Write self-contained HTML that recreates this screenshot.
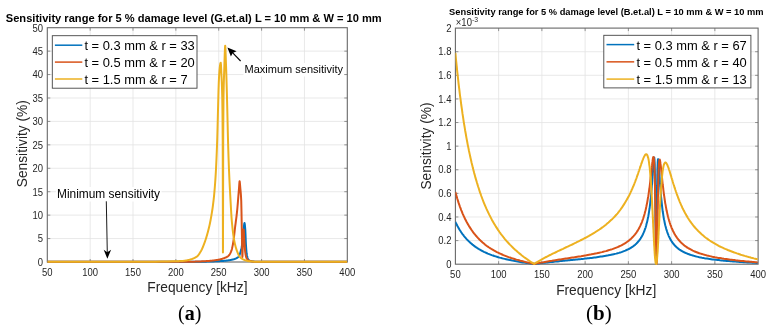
<!DOCTYPE html>
<html><head><meta charset="utf-8"><title>Sensitivity range</title>
<style>
html,body{margin:0;padding:0;background:#fff;}
body{width:772px;height:334px;overflow:hidden;font-family:"Liberation Sans",sans-serif;}
svg{display:block;will-change:transform;opacity:0.999;}
text{font-family:"Liberation Sans",sans-serif;}
.tk{font-size:10px;fill:#262626;}
.lg{font-size:12.9px;fill:#000;}
.al{font-size:13.75px;fill:#262626;}
.cap{font-family:"Liberation Serif",serif;font-size:20px;fill:#000;}
</style></head><body>
<svg width="772" height="334" viewBox="0 0 772 334">
<rect x="0" y="0" width="772" height="334" fill="#fff"/>

<g id="left">
<rect x="47.3" y="27.7" width="300.0" height="234.3" fill="#fff"/>
<line x1="90.16" y1="27.7" x2="90.16" y2="262.0" stroke="#e3e3e3" stroke-width="0.8"/>
<line x1="133.01" y1="27.7" x2="133.01" y2="262.0" stroke="#e3e3e3" stroke-width="0.8"/>
<line x1="175.87" y1="27.7" x2="175.87" y2="262.0" stroke="#e3e3e3" stroke-width="0.8"/>
<line x1="218.73" y1="27.7" x2="218.73" y2="262.0" stroke="#e3e3e3" stroke-width="0.8"/>
<line x1="261.59" y1="27.7" x2="261.59" y2="262.0" stroke="#e3e3e3" stroke-width="0.8"/>
<line x1="304.44" y1="27.7" x2="304.44" y2="262.0" stroke="#e3e3e3" stroke-width="0.8"/>
<line x1="47.3" y1="238.57" x2="347.3" y2="238.57" stroke="#e3e3e3" stroke-width="0.8"/>
<line x1="47.3" y1="215.14" x2="347.3" y2="215.14" stroke="#e3e3e3" stroke-width="0.8"/>
<line x1="47.3" y1="191.71" x2="347.3" y2="191.71" stroke="#e3e3e3" stroke-width="0.8"/>
<line x1="47.3" y1="168.28" x2="347.3" y2="168.28" stroke="#e3e3e3" stroke-width="0.8"/>
<line x1="47.3" y1="144.85" x2="347.3" y2="144.85" stroke="#e3e3e3" stroke-width="0.8"/>
<line x1="47.3" y1="121.42" x2="347.3" y2="121.42" stroke="#e3e3e3" stroke-width="0.8"/>
<line x1="47.3" y1="97.99" x2="347.3" y2="97.99" stroke="#e3e3e3" stroke-width="0.8"/>
<line x1="47.3" y1="74.56" x2="347.3" y2="74.56" stroke="#e3e3e3" stroke-width="0.8"/>
<line x1="47.3" y1="51.13" x2="347.3" y2="51.13" stroke="#e3e3e3" stroke-width="0.8"/>
<line x1="90.16" y1="262.0" x2="90.16" y2="259.0" stroke="#686868" stroke-width="0.7"/>
<line x1="90.16" y1="27.7" x2="90.16" y2="30.7" stroke="#686868" stroke-width="0.7"/>
<line x1="133.01" y1="262.0" x2="133.01" y2="259.0" stroke="#686868" stroke-width="0.7"/>
<line x1="133.01" y1="27.7" x2="133.01" y2="30.7" stroke="#686868" stroke-width="0.7"/>
<line x1="175.87" y1="262.0" x2="175.87" y2="259.0" stroke="#686868" stroke-width="0.7"/>
<line x1="175.87" y1="27.7" x2="175.87" y2="30.7" stroke="#686868" stroke-width="0.7"/>
<line x1="218.73" y1="262.0" x2="218.73" y2="259.0" stroke="#686868" stroke-width="0.7"/>
<line x1="218.73" y1="27.7" x2="218.73" y2="30.7" stroke="#686868" stroke-width="0.7"/>
<line x1="261.59" y1="262.0" x2="261.59" y2="259.0" stroke="#686868" stroke-width="0.7"/>
<line x1="261.59" y1="27.7" x2="261.59" y2="30.7" stroke="#686868" stroke-width="0.7"/>
<line x1="304.44" y1="262.0" x2="304.44" y2="259.0" stroke="#686868" stroke-width="0.7"/>
<line x1="304.44" y1="27.7" x2="304.44" y2="30.7" stroke="#686868" stroke-width="0.7"/>
<line x1="47.3" y1="238.57" x2="50.3" y2="238.57" stroke="#686868" stroke-width="0.7"/>
<line x1="347.3" y1="238.57" x2="344.3" y2="238.57" stroke="#686868" stroke-width="0.7"/>
<line x1="47.3" y1="215.14" x2="50.3" y2="215.14" stroke="#686868" stroke-width="0.7"/>
<line x1="347.3" y1="215.14" x2="344.3" y2="215.14" stroke="#686868" stroke-width="0.7"/>
<line x1="47.3" y1="191.71" x2="50.3" y2="191.71" stroke="#686868" stroke-width="0.7"/>
<line x1="347.3" y1="191.71" x2="344.3" y2="191.71" stroke="#686868" stroke-width="0.7"/>
<line x1="47.3" y1="168.28" x2="50.3" y2="168.28" stroke="#686868" stroke-width="0.7"/>
<line x1="347.3" y1="168.28" x2="344.3" y2="168.28" stroke="#686868" stroke-width="0.7"/>
<line x1="47.3" y1="144.85" x2="50.3" y2="144.85" stroke="#686868" stroke-width="0.7"/>
<line x1="347.3" y1="144.85" x2="344.3" y2="144.85" stroke="#686868" stroke-width="0.7"/>
<line x1="47.3" y1="121.42" x2="50.3" y2="121.42" stroke="#686868" stroke-width="0.7"/>
<line x1="347.3" y1="121.42" x2="344.3" y2="121.42" stroke="#686868" stroke-width="0.7"/>
<line x1="47.3" y1="97.99" x2="50.3" y2="97.99" stroke="#686868" stroke-width="0.7"/>
<line x1="347.3" y1="97.99" x2="344.3" y2="97.99" stroke="#686868" stroke-width="0.7"/>
<line x1="47.3" y1="74.56" x2="50.3" y2="74.56" stroke="#686868" stroke-width="0.7"/>
<line x1="347.3" y1="74.56" x2="344.3" y2="74.56" stroke="#686868" stroke-width="0.7"/>
<line x1="47.3" y1="51.13" x2="50.3" y2="51.13" stroke="#686868" stroke-width="0.7"/>
<line x1="347.3" y1="51.13" x2="344.3" y2="51.13" stroke="#686868" stroke-width="0.7"/>
<rect x="47.3" y="27.7" width="300.0" height="234.3" fill="none" stroke="#686868" stroke-width="1.1"/>
<clipPath id="cl"><rect x="47.3" y="27.7" width="300.0" height="235.8"/></clipPath>
<g clip-path="url(#cl)" fill="none" stroke-width="2" stroke-linejoin="round" stroke-linecap="butt">
<path d="M47.30,261.70 L53.30,261.70 L59.30,261.70 L65.30,261.70 L71.30,261.70 L77.30,261.70 L83.30,261.70 L89.30,261.70 L95.30,261.70 L101.30,261.70 L107.30,261.70 L113.30,261.70 L119.30,261.70 L125.30,261.70 L131.30,261.70 L137.30,261.70 L143.30,261.70 L149.30,261.70 L155.30,261.70 L161.30,261.70 L167.30,261.70 L173.30,261.70 L175.00,261.70 L175.25,261.70 L175.50,261.70 L175.75,261.70 L176.00,261.70 L176.25,261.70 L176.50,261.70 L176.75,261.70 L177.00,261.70 L177.25,261.70 L177.50,261.70 L177.75,261.70 L178.00,261.70 L178.25,261.70 L178.50,261.70 L178.75,261.70 L179.00,261.70 L179.25,261.70 L179.30,261.70 L179.50,261.70 L179.75,261.70 L180.00,261.70 L180.25,261.70 L180.50,261.70 L180.75,261.70 L181.00,261.70 L181.25,261.70 L181.50,261.70 L181.75,261.70 L182.00,261.70 L182.25,261.70 L182.50,261.70 L182.75,261.70 L183.00,261.70 L183.25,261.70 L183.50,261.70 L183.75,261.70 L184.00,261.70 L184.25,261.70 L184.50,261.70 L184.75,261.70 L185.00,261.70 L185.25,261.70 L185.30,261.70 L185.50,261.70 L185.75,261.70 L186.00,261.70 L186.25,261.70 L186.50,261.70 L186.75,261.70 L187.00,261.70 L187.25,261.70 L187.50,261.70 L187.75,261.70 L188.00,261.70 L188.25,261.70 L188.50,261.70 L188.75,261.70 L189.00,261.70 L189.25,261.70 L189.50,261.70 L189.75,261.70 L190.00,261.70 L190.25,261.70 L190.50,261.70 L190.75,261.70 L191.00,261.70 L191.25,261.70 L191.30,261.70 L191.50,261.70 L191.75,261.70 L192.00,261.70 L192.25,261.70 L192.50,261.70 L192.75,261.70 L193.00,261.70 L193.25,261.70 L193.50,261.70 L193.75,261.70 L194.00,261.70 L194.25,261.70 L194.50,261.70 L194.75,261.70 L195.00,261.70 L195.25,261.70 L195.50,261.70 L195.75,261.70 L196.00,261.70 L196.25,261.70 L196.50,261.70 L196.75,261.70 L197.00,261.70 L197.25,261.70 L197.30,261.70 L197.50,261.70 L197.75,261.70 L198.00,261.70 L198.25,261.70 L198.50,261.70 L198.75,261.70 L199.00,261.70 L199.25,261.70 L199.50,261.70 L199.75,261.70 L200.00,261.70 L200.25,261.70 L200.50,261.70 L200.75,261.70 L201.00,261.70 L201.25,261.70 L201.50,261.70 L201.75,261.69 L202.00,261.69 L202.25,261.69 L202.50,261.69 L202.75,261.69 L203.00,261.68 L203.25,261.68 L203.30,261.68 L203.50,261.68 L203.75,261.68 L204.00,261.67 L204.25,261.67 L204.50,261.66 L204.75,261.66 L205.00,261.66 L205.25,261.65 L205.50,261.65 L205.75,261.64 L206.00,261.64 L206.25,261.63 L206.50,261.63 L206.75,261.62 L207.00,261.62 L207.25,261.61 L207.50,261.60 L207.75,261.60 L208.00,261.59 L208.25,261.59 L208.50,261.58 L208.75,261.57 L209.00,261.56 L209.25,261.56 L209.30,261.56 L209.50,261.55 L209.75,261.54 L210.00,261.53 L210.25,261.53 L210.50,261.52 L210.75,261.51 L211.00,261.50 L211.25,261.49 L211.50,261.48 L211.75,261.48 L212.00,261.47 L212.25,261.46 L212.50,261.45 L212.75,261.44 L213.00,261.43 L213.25,261.42 L213.50,261.41 L213.75,261.40 L214.00,261.39 L214.25,261.38 L214.50,261.37 L214.75,261.36 L215.00,261.35 L215.25,261.34 L215.30,261.33 L215.50,261.33 L215.75,261.31 L216.00,261.30 L216.25,261.29 L216.50,261.28 L216.75,261.27 L217.00,261.26 L217.25,261.25 L217.50,261.23 L217.75,261.22 L218.00,261.21 L218.25,261.20 L218.50,261.18 L218.75,261.17 L219.00,261.16 L219.25,261.15 L219.50,261.13 L219.75,261.12 L220.00,261.11 L220.25,261.09 L220.50,261.08 L220.75,261.07 L221.00,261.05 L221.25,261.04 L221.30,261.04 L221.50,261.03 L221.75,261.01 L222.00,261.00 L222.25,260.99 L222.50,260.97 L222.75,260.95 L223.00,260.94 L223.25,260.92 L223.50,260.90 L223.75,260.88 L224.00,260.86 L224.25,260.84 L224.50,260.82 L224.75,260.79 L225.00,260.77 L225.25,260.75 L225.50,260.72 L225.75,260.69 L226.00,260.67 L226.25,260.64 L226.50,260.61 L226.75,260.58 L227.00,260.54 L227.25,260.51 L227.30,260.51 L227.50,260.48 L227.75,260.44 L228.00,260.41 L228.25,260.37 L228.50,260.33 L228.75,260.30 L229.00,260.26 L229.25,260.22 L229.50,260.17 L229.75,260.13 L230.00,260.09 L230.25,260.04 L230.50,260.00 L230.75,259.95 L231.00,259.90 L231.25,259.85 L231.50,259.80 L231.75,259.75 L232.00,259.70 L232.25,259.65 L232.50,259.59 L232.75,259.53 L233.00,259.48 L233.25,259.41 L233.30,259.40 L233.50,259.35 L233.75,259.28 L234.00,259.21 L234.25,259.13 L234.50,259.05 L234.75,258.96 L235.00,258.87 L235.25,258.77 L235.50,258.67 L235.75,258.56 L236.00,258.44 L236.25,258.31 L236.50,258.18 L236.75,258.04 L237.00,257.88 L237.25,257.73 L237.50,257.56 L237.75,257.38 L238.00,257.19 L238.25,256.99 L238.50,256.78 L238.70,256.60 L238.75,256.55 L239.00,256.22 L239.25,255.74 L239.30,255.63 L239.50,255.14 L239.75,254.44 L240.00,253.65 L240.25,252.80 L240.50,251.89 L240.75,250.95 L241.00,250.00 L241.25,249.00 L241.50,247.89 L241.75,246.65 L242.00,245.27 L242.25,243.73 L242.50,242.00 L242.75,239.73 L243.00,236.85 L243.25,233.79 L243.50,230.97 L243.60,230.00 L243.75,228.54 L244.00,225.97 L244.25,223.87 L244.50,223.00 L244.75,223.92 L245.00,226.26 L245.25,229.35 L245.30,230.00 L245.50,234.05 L245.75,240.78 L245.90,244.00 L246.00,245.63 L246.25,249.37 L246.50,252.37 L246.70,254.00 L246.75,254.30 L247.00,255.69 L247.25,256.86 L247.50,257.81 L247.75,258.52 L248.00,259.00 L248.25,259.34 L248.50,259.64 L248.75,259.92 L249.00,260.16 L249.25,260.37 L249.50,260.55 L249.75,260.70 L250.00,260.83 L250.25,260.93 L250.50,261.00 L250.75,261.06 L251.00,261.12 L251.25,261.17 L251.30,261.18 L251.50,261.22 L251.75,261.27 L252.00,261.32 L252.25,261.36 L252.50,261.41 L252.75,261.45 L253.00,261.48 L253.25,261.52 L253.50,261.55 L253.75,261.58 L254.00,261.60 L254.25,261.62 L254.50,261.64 L254.75,261.66 L255.00,261.67 L255.25,261.69 L255.50,261.69 L255.75,261.70 L256.00,261.70 L256.25,261.70 L256.50,261.70 L256.75,261.70 L257.00,261.70 L257.25,261.70 L257.30,261.70 L257.50,261.70 L257.75,261.70 L258.00,261.70 L258.25,261.70 L258.50,261.70 L258.75,261.70 L259.00,261.70 L259.25,261.70 L259.50,261.70 L259.75,261.70 L260.00,261.70 L260.25,261.70 L260.50,261.70 L260.75,261.70 L261.00,261.70 L261.25,261.70 L261.50,261.70 L261.75,261.70 L263.30,261.70 L269.30,261.70 L275.30,261.70 L281.30,261.70 L287.30,261.70 L293.30,261.70 L299.30,261.70 L305.30,261.70 L311.30,261.70 L317.30,261.70 L323.30,261.70 L329.30,261.70 L335.30,261.70 L341.30,261.70 L347.30,261.70" stroke="#0072BD"/>
<path d="M47.30,261.70 L53.30,261.70 L59.30,261.70 L65.30,261.70 L71.30,261.70 L77.30,261.70 L83.30,261.70 L89.30,261.70 L95.30,261.70 L101.30,261.70 L107.30,261.70 L113.30,261.70 L119.30,261.70 L125.30,261.70 L131.30,261.70 L137.30,261.70 L143.30,261.70 L149.30,261.70 L155.30,261.70 L161.30,261.70 L167.30,261.70 L173.30,261.70 L175.00,261.70 L175.25,261.70 L175.50,261.70 L175.75,261.70 L176.00,261.70 L176.25,261.70 L176.50,261.70 L176.75,261.70 L177.00,261.70 L177.25,261.70 L177.50,261.70 L177.75,261.70 L178.00,261.70 L178.25,261.70 L178.50,261.70 L178.75,261.70 L179.00,261.70 L179.25,261.70 L179.30,261.70 L179.50,261.70 L179.75,261.70 L180.00,261.70 L180.25,261.70 L180.50,261.70 L180.75,261.70 L181.00,261.70 L181.25,261.70 L181.50,261.70 L181.75,261.70 L182.00,261.70 L182.25,261.70 L182.50,261.70 L182.75,261.70 L183.00,261.70 L183.25,261.70 L183.50,261.70 L183.75,261.70 L184.00,261.70 L184.25,261.70 L184.50,261.70 L184.75,261.70 L185.00,261.70 L185.25,261.70 L185.30,261.70 L185.50,261.70 L185.75,261.70 L186.00,261.70 L186.25,261.70 L186.50,261.70 L186.75,261.70 L187.00,261.70 L187.25,261.70 L187.50,261.70 L187.75,261.70 L188.00,261.70 L188.25,261.70 L188.50,261.70 L188.75,261.70 L189.00,261.70 L189.25,261.70 L189.50,261.70 L189.75,261.70 L190.00,261.70 L190.25,261.70 L190.50,261.70 L190.75,261.70 L191.00,261.70 L191.25,261.70 L191.30,261.69 L191.50,261.69 L191.75,261.69 L192.00,261.69 L192.25,261.69 L192.50,261.68 L192.75,261.68 L193.00,261.67 L193.25,261.67 L193.50,261.67 L193.75,261.66 L194.00,261.65 L194.25,261.65 L194.50,261.64 L194.75,261.64 L195.00,261.63 L195.25,261.62 L195.50,261.62 L195.75,261.61 L196.00,261.60 L196.25,261.59 L196.50,261.59 L196.75,261.58 L197.00,261.57 L197.25,261.56 L197.30,261.56 L197.50,261.55 L197.75,261.54 L198.00,261.53 L198.25,261.52 L198.50,261.51 L198.75,261.50 L199.00,261.49 L199.25,261.48 L199.50,261.47 L199.75,261.46 L200.00,261.45 L200.25,261.43 L200.50,261.42 L200.75,261.41 L201.00,261.40 L201.25,261.39 L201.50,261.37 L201.75,261.36 L202.00,261.35 L202.25,261.33 L202.50,261.32 L202.75,261.31 L203.00,261.29 L203.25,261.28 L203.30,261.28 L203.50,261.27 L203.75,261.25 L204.00,261.24 L204.25,261.22 L204.50,261.21 L204.75,261.20 L205.00,261.18 L205.25,261.17 L205.50,261.15 L205.75,261.14 L206.00,261.12 L206.25,261.11 L206.50,261.09 L206.75,261.08 L207.00,261.06 L207.25,261.05 L207.50,261.03 L207.75,261.02 L208.00,261.00 L208.25,260.98 L208.50,260.97 L208.75,260.95 L209.00,260.93 L209.25,260.91 L209.30,260.91 L209.50,260.89 L209.75,260.87 L210.00,260.85 L210.25,260.83 L210.50,260.80 L210.75,260.78 L211.00,260.76 L211.25,260.73 L211.50,260.71 L211.75,260.68 L212.00,260.65 L212.25,260.62 L212.50,260.59 L212.75,260.56 L213.00,260.53 L213.25,260.50 L213.50,260.47 L213.75,260.44 L214.00,260.40 L214.25,260.37 L214.50,260.34 L214.75,260.30 L215.00,260.26 L215.25,260.23 L215.30,260.22 L215.50,260.19 L215.75,260.15 L216.00,260.11 L216.25,260.07 L216.50,260.03 L216.75,259.99 L217.00,259.95 L217.25,259.91 L217.50,259.87 L217.75,259.83 L218.00,259.78 L218.25,259.74 L218.50,259.69 L218.75,259.65 L219.00,259.60 L219.25,259.55 L219.50,259.50 L219.75,259.45 L220.00,259.39 L220.25,259.34 L220.50,259.28 L220.75,259.21 L221.00,259.15 L221.25,259.08 L221.30,259.07 L221.50,259.01 L221.75,258.94 L222.00,258.86 L222.25,258.79 L222.50,258.71 L222.75,258.63 L223.00,258.54 L223.25,258.46 L223.50,258.37 L223.75,258.28 L224.00,258.19 L224.25,258.09 L224.50,258.00 L224.75,257.90 L225.00,257.80 L225.25,257.70 L225.50,257.59 L225.75,257.49 L226.00,257.38 L226.25,257.26 L226.50,257.14 L226.75,257.01 L227.00,256.87 L227.25,256.72 L227.30,256.69 L227.50,256.56 L227.75,256.39 L228.00,256.21 L228.25,256.01 L228.50,255.80 L228.75,255.56 L229.00,255.29 L229.25,254.97 L229.50,254.62 L229.75,254.24 L230.00,253.81 L230.25,253.35 L230.50,252.85 L230.75,252.31 L231.00,251.74 L231.25,251.13 L231.30,251.00 L231.50,250.44 L231.75,249.61 L232.00,248.65 L232.25,247.56 L232.50,246.37 L232.75,245.08 L233.00,243.72 L233.25,242.29 L233.30,242.00 L233.50,240.72 L233.75,238.87 L234.00,236.80 L234.25,234.61 L234.50,232.36 L234.75,230.13 L235.00,228.00 L235.25,225.99 L235.50,224.05 L235.75,222.14 L236.00,220.23 L236.25,218.28 L236.50,216.27 L236.75,214.16 L237.00,211.91 L237.20,210.00 L237.25,209.50 L237.50,206.78 L237.75,203.82 L238.00,200.72 L238.25,197.61 L238.30,197.00 L238.50,194.51 L238.75,191.34 L239.00,188.21 L239.10,187.00 L239.25,184.90 L239.30,184.14 L239.50,181.70 L239.60,181.30 L239.75,181.81 L240.00,184.28 L240.25,187.43 L240.30,188.00 L240.50,190.11 L240.75,192.82 L241.00,196.26 L241.20,200.00 L241.25,201.29 L241.50,212.46 L241.75,227.09 L241.90,235.00 L242.00,240.27 L242.25,253.72 L242.40,257.00 L242.50,255.57 L242.75,245.25 L242.90,240.00 L243.00,237.84 L243.25,232.83 L243.50,229.73 L243.60,229.40 L243.75,230.29 L244.00,234.44 L244.25,239.23 L244.30,240.00 L244.50,242.99 L244.75,246.80 L245.00,250.12 L245.20,252.00 L245.25,252.35 L245.30,252.69 L245.50,253.97 L245.75,255.36 L246.00,256.51 L246.25,257.40 L246.50,258.00 L246.75,258.44 L247.00,258.84 L247.25,259.20 L247.50,259.52 L247.75,259.81 L248.00,260.06 L248.25,260.28 L248.50,260.46 L248.75,260.61 L249.00,260.73 L249.20,260.80 L249.25,260.81 L249.50,260.89 L249.75,260.96 L250.00,261.02 L250.25,261.09 L250.50,261.15 L250.75,261.21 L251.00,261.26 L251.25,261.31 L251.30,261.32 L251.50,261.36 L251.75,261.41 L252.00,261.45 L252.25,261.49 L252.50,261.52 L252.75,261.56 L253.00,261.59 L253.25,261.61 L253.50,261.64 L253.75,261.66 L254.00,261.67 L254.25,261.68 L254.50,261.69 L254.75,261.70 L255.00,261.70 L255.25,261.70 L255.50,261.70 L255.75,261.70 L256.00,261.70 L256.25,261.70 L256.50,261.70 L256.75,261.70 L257.00,261.70 L257.25,261.70 L257.30,261.70 L257.50,261.70 L257.75,261.70 L258.00,261.70 L258.25,261.70 L258.50,261.70 L258.75,261.70 L259.00,261.70 L259.25,261.70 L259.50,261.70 L259.75,261.70 L260.00,261.70 L260.25,261.70 L260.50,261.70 L260.75,261.70 L261.00,261.70 L261.25,261.70 L261.50,261.70 L261.75,261.70 L263.30,261.70 L269.30,261.70 L275.30,261.70 L281.30,261.70 L287.30,261.70 L293.30,261.70 L299.30,261.70 L305.30,261.70 L311.30,261.70 L317.30,261.70 L323.30,261.70 L329.30,261.70 L335.30,261.70 L341.30,261.70 L347.30,261.70" stroke="#D95319"/>
<path d="M47.30,261.70 L53.30,261.70 L59.30,261.70 L65.30,261.70 L71.30,261.70 L77.30,261.70 L83.30,261.70 L89.30,261.70 L95.30,261.70 L101.30,261.70 L107.30,261.70 L113.30,261.70 L119.30,261.70 L125.30,261.70 L131.30,261.70 L137.30,261.70 L143.30,261.70 L149.30,261.70 L150.00,261.70 L155.30,261.68 L161.30,261.62 L167.30,261.51 L173.30,261.34 L175.00,261.28 L175.25,261.27 L175.50,261.26 L175.75,261.26 L176.00,261.25 L176.25,261.24 L176.50,261.23 L176.75,261.22 L177.00,261.21 L177.25,261.20 L177.50,261.19 L177.75,261.18 L178.00,261.17 L178.25,261.16 L178.50,261.15 L178.75,261.14 L179.00,261.13 L179.25,261.12 L179.30,261.12 L179.50,261.11 L179.75,261.10 L180.00,261.09 L180.25,261.08 L180.50,261.07 L180.75,261.06 L181.00,261.05 L181.25,261.03 L181.50,261.02 L181.75,261.01 L182.00,261.00 L182.25,260.99 L182.50,260.97 L182.75,260.95 L183.00,260.93 L183.25,260.91 L183.50,260.88 L183.75,260.85 L184.00,260.82 L184.25,260.79 L184.50,260.76 L184.75,260.72 L185.00,260.68 L185.25,260.64 L185.30,260.63 L185.50,260.60 L185.75,260.55 L186.00,260.51 L186.25,260.46 L186.50,260.41 L186.75,260.36 L187.00,260.31 L187.25,260.25 L187.50,260.20 L187.75,260.14 L188.00,260.09 L188.25,260.03 L188.50,259.97 L188.75,259.91 L189.00,259.85 L189.25,259.79 L189.50,259.73 L189.75,259.66 L190.00,259.60 L190.25,259.54 L190.50,259.47 L190.75,259.40 L191.00,259.33 L191.25,259.25 L191.30,259.24 L191.50,259.17 L191.75,259.09 L192.00,259.01 L192.25,258.92 L192.50,258.83 L192.75,258.73 L193.00,258.64 L193.25,258.53 L193.50,258.43 L193.75,258.32 L194.00,258.20 L194.25,258.09 L194.50,257.96 L194.75,257.83 L195.00,257.70 L195.25,257.57 L195.50,257.42 L195.75,257.28 L196.00,257.12 L196.25,256.97 L196.50,256.80 L196.75,256.63 L196.80,256.60 L197.00,256.45 L197.25,256.25 L197.30,256.20 L197.50,256.02 L197.75,255.76 L198.00,255.49 L198.25,255.19 L198.50,254.88 L198.75,254.54 L199.00,254.20 L199.25,253.83 L199.50,253.46 L199.75,253.07 L200.00,252.67 L200.25,252.26 L200.50,251.85 L200.75,251.43 L201.00,251.00 L201.25,250.56 L201.50,250.09 L201.75,249.59 L202.00,249.06 L202.25,248.52 L202.50,247.95 L202.75,247.36 L203.00,246.75 L203.25,246.13 L203.30,246.00 L203.50,245.49 L203.75,244.84 L204.00,244.18 L204.25,243.51 L204.50,242.83 L204.75,242.14 L204.80,242.00 L205.00,241.44 L205.25,240.72 L205.50,239.98 L205.75,239.22 L206.00,238.44 L206.25,237.64 L206.50,236.82 L206.75,235.99 L207.00,235.13 L207.25,234.25 L207.50,233.35 L207.75,232.43 L208.00,231.50 L208.25,230.55 L208.50,229.57 L208.75,228.56 L209.00,227.53 L209.25,226.46 L209.30,226.24 L209.50,225.35 L209.75,224.21 L210.00,223.01 L210.25,221.77 L210.40,221.00 L210.50,220.48 L210.75,219.15 L211.00,217.80 L211.25,216.40 L211.50,214.95 L211.75,213.45 L212.00,211.89 L212.25,210.26 L212.50,208.56 L212.75,206.77 L213.00,204.90 L213.25,202.93 L213.50,200.86 L213.60,200.00 L213.75,198.67 L214.00,196.29 L214.25,193.73 L214.50,190.96 L214.75,187.97 L215.00,184.74 L215.25,181.28 L215.30,180.56 L215.50,177.56 L215.60,176.00 L215.75,173.53 L216.00,168.98 L216.25,163.91 L216.50,158.32 L216.75,152.23 L217.00,145.63 L217.20,140.00 L217.25,138.50 L217.50,129.66 L217.75,119.68 L218.00,110.00 L218.25,100.39 L218.50,90.86 L218.75,83.16 L218.80,82.00 L219.00,77.88 L219.25,73.46 L219.50,69.98 L219.70,68.00 L219.75,67.60 L220.00,65.68 L220.25,64.07 L220.50,63.00 L220.70,62.70 L220.75,62.79 L221.00,65.45 L221.25,70.47 L221.30,71.59 L221.50,76.00 L221.75,81.21 L222.00,87.69 L222.20,95.00 L222.25,97.27 L222.50,114.56 L222.70,140.00 L222.75,156.87 L222.95,252.40 L223.00,242.36 L223.20,140.00 L223.25,130.30 L223.50,98.45 L223.55,95.00 L223.75,84.93 L224.00,76.35 L224.25,69.44 L224.30,68.00 L224.50,61.61 L224.75,53.53 L225.00,47.49 L225.20,45.70 L225.25,45.85 L225.50,50.18 L225.75,57.64 L225.90,62.00 L226.00,64.70 L226.25,72.01 L226.50,80.00 L226.75,88.72 L227.00,98.14 L227.25,108.00 L227.30,110.00 L227.50,118.58 L227.75,129.87 L228.00,140.00 L228.25,148.56 L228.50,156.42 L228.75,163.56 L229.00,170.00 L229.25,175.83 L229.50,181.20 L229.75,186.22 L230.00,190.96 L230.25,195.53 L230.50,200.00 L230.75,204.51 L231.00,209.01 L231.25,213.29 L231.50,217.17 L231.75,220.44 L231.80,221.00 L232.00,223.14 L232.25,225.67 L232.50,228.05 L232.75,230.28 L233.00,232.36 L233.25,234.30 L233.30,234.67 L233.50,236.10 L233.75,237.77 L234.00,239.31 L234.25,240.71 L234.50,242.00 L234.75,243.18 L235.00,244.29 L235.25,245.32 L235.50,246.28 L235.75,247.19 L236.00,248.04 L236.25,248.84 L236.50,249.59 L236.75,250.31 L237.00,251.00 L237.25,251.67 L237.50,252.33 L237.75,252.98 L238.00,253.60 L238.25,254.19 L238.50,254.75 L238.75,255.26 L239.00,255.73 L239.25,256.14 L239.30,256.21 L239.50,256.48 L239.60,256.60 L239.75,256.77 L240.00,257.04 L240.25,257.29 L240.50,257.53 L240.75,257.76 L241.00,257.98 L241.25,258.19 L241.50,258.38 L241.75,258.56 L242.00,258.74 L242.25,258.90 L242.50,259.05 L242.75,259.20 L243.00,259.33 L243.25,259.46 L243.50,259.58 L243.75,259.69 L244.00,259.80 L244.25,259.90 L244.50,260.00 L244.75,260.09 L245.00,260.19 L245.25,260.28 L245.30,260.30 L245.50,260.37 L245.75,260.45 L246.00,260.53 L246.25,260.61 L246.50,260.68 L246.75,260.75 L247.00,260.82 L247.25,260.88 L247.50,260.94 L247.75,260.99 L248.00,261.04 L248.25,261.09 L248.50,261.13 L248.75,261.17 L249.00,261.20 L249.25,261.23 L249.50,261.26 L249.75,261.29 L250.00,261.31 L250.25,261.34 L250.50,261.37 L250.75,261.39 L251.00,261.42 L251.25,261.44 L251.30,261.45 L251.50,261.47 L251.75,261.49 L252.00,261.51 L252.25,261.53 L252.50,261.55 L252.75,261.57 L253.00,261.59 L253.25,261.61 L253.50,261.62 L253.75,261.64 L254.00,261.65 L254.25,261.66 L254.50,261.67 L254.75,261.68 L255.00,261.69 L255.25,261.69 L255.50,261.70 L255.75,261.70 L256.00,261.70 L256.25,261.70 L256.50,261.70 L256.75,261.70 L257.00,261.70 L257.25,261.70 L257.30,261.70 L257.50,261.70 L257.75,261.70 L258.00,261.70 L258.25,261.70 L258.50,261.70 L258.75,261.70 L259.00,261.70 L259.25,261.70 L259.50,261.70 L259.75,261.70 L260.00,261.70 L260.25,261.70 L260.50,261.70 L260.75,261.70 L261.00,261.70 L261.25,261.70 L261.50,261.70 L261.75,261.70 L263.30,261.70 L269.30,261.70 L275.30,261.70 L281.30,261.70 L287.30,261.70 L293.30,261.70 L299.30,261.70 L305.30,261.70 L311.30,261.70 L317.30,261.70 L323.30,261.70 L329.30,261.70 L335.30,261.70 L341.30,261.70 L347.30,261.70" stroke="#EDB120"/>
</g>
<text class="tk" transform="translate(47.30,276.2) scale(0.95,1)" text-anchor="middle">50</text>
<text class="tk" transform="translate(90.16,276.2) scale(0.95,1)" text-anchor="middle">100</text>
<text class="tk" transform="translate(133.01,276.2) scale(0.95,1)" text-anchor="middle">150</text>
<text class="tk" transform="translate(175.87,276.2) scale(0.95,1)" text-anchor="middle">200</text>
<text class="tk" transform="translate(218.73,276.2) scale(0.95,1)" text-anchor="middle">250</text>
<text class="tk" transform="translate(261.59,276.2) scale(0.95,1)" text-anchor="middle">300</text>
<text class="tk" transform="translate(304.44,276.2) scale(0.95,1)" text-anchor="middle">350</text>
<text class="tk" transform="translate(347.30,276.2) scale(0.95,1)" text-anchor="middle">400</text>
<text class="tk" transform="translate(43.1,265.80) scale(0.95,1)" text-anchor="end">0</text>
<text class="tk" transform="translate(43.1,242.37) scale(0.95,1)" text-anchor="end">5</text>
<text class="tk" transform="translate(43.1,218.94) scale(0.95,1)" text-anchor="end">10</text>
<text class="tk" transform="translate(43.1,195.51) scale(0.95,1)" text-anchor="end">15</text>
<text class="tk" transform="translate(43.1,172.08) scale(0.95,1)" text-anchor="end">20</text>
<text class="tk" transform="translate(43.1,148.65) scale(0.95,1)" text-anchor="end">25</text>
<text class="tk" transform="translate(43.1,125.22) scale(0.95,1)" text-anchor="end">30</text>
<text class="tk" transform="translate(43.1,101.79) scale(0.95,1)" text-anchor="end">35</text>
<text class="tk" transform="translate(43.1,78.36) scale(0.95,1)" text-anchor="end">40</text>
<text class="tk" transform="translate(43.1,54.93) scale(0.95,1)" text-anchor="end">45</text>
<text class="tk" transform="translate(43.1,31.50) scale(0.95,1)" text-anchor="end">50</text>
<text x="5.8" y="21.8" font-size="11.1px" font-weight="bold" fill="#000">Sensitivity range for 5 % damage level (G.et.al) L = 10 mm &amp; W = 10 mm</text>
<text class="al" x="197.4" y="292.3" text-anchor="middle">Frequency [kHz]</text>
<text class="al" transform="translate(26.6,143.7) rotate(-90)" text-anchor="middle">Sensitivity (%)</text>
<rect x="52.3" y="35.7" width="144.7" height="52.5" fill="#fff" stroke="#444" stroke-width="0.9"/>
<line x1="54.9" y1="45.20" x2="82.3" y2="45.20" stroke="#0072BD" stroke-width="1.5"/>
<text class="lg" x="84.4" y="49.70">t = 0.3 mm &amp; r = 33</text>
<line x1="54.9" y1="62.10" x2="82.3" y2="62.10" stroke="#D95319" stroke-width="1.5"/>
<text class="lg" x="84.4" y="66.60">t = 0.5 mm &amp; r = 20</text>
<line x1="54.9" y1="79.00" x2="82.3" y2="79.00" stroke="#EDB120" stroke-width="1.5"/>
<text class="lg" x="84.4" y="83.50">t = 1.5 mm &amp; r = 7</text>
<rect x="243.5" y="63" width="100.5" height="13.5" fill="#fff"/>
<rect x="56" y="187" width="105.5" height="14.5" fill="#fff"/>
<text x="244.6" y="72.7" font-size="11px" fill="#000">Maximum sensitivity</text>
<text x="57" y="197.8" font-size="11.9px" fill="#000">Minimum sensitivity</text>
<line x1="240.6" y1="61" x2="232" y2="52.1" stroke="#000" stroke-width="1.1"/>
<path d="M227.4,47.4 L236.6,51.3 L232.7,52.9 L230.9,56.5 Z" fill="#000"/>
<line x1="106.3" y1="201.3" x2="107.3" y2="253" stroke="#000" stroke-width="0.9"/>
<path d="M107.35,258.7 L103.7,249.8 L107.3,252.3 L111.1,249.8 Z" fill="#000"/>
<text class="cap" x="178" y="319.9">(<tspan font-weight="bold">a</tspan>)</text>
</g>
<g id="right">
<rect x="455.4" y="28.1" width="302.70000000000005" height="236.1" fill="#fff"/>
<line x1="498.64" y1="28.1" x2="498.64" y2="264.2" stroke="#e3e3e3" stroke-width="0.8"/>
<line x1="541.89" y1="28.1" x2="541.89" y2="264.2" stroke="#e3e3e3" stroke-width="0.8"/>
<line x1="585.13" y1="28.1" x2="585.13" y2="264.2" stroke="#e3e3e3" stroke-width="0.8"/>
<line x1="628.37" y1="28.1" x2="628.37" y2="264.2" stroke="#e3e3e3" stroke-width="0.8"/>
<line x1="671.61" y1="28.1" x2="671.61" y2="264.2" stroke="#e3e3e3" stroke-width="0.8"/>
<line x1="714.86" y1="28.1" x2="714.86" y2="264.2" stroke="#e3e3e3" stroke-width="0.8"/>
<line x1="455.4" y1="240.59" x2="758.1" y2="240.59" stroke="#e3e3e3" stroke-width="0.8"/>
<line x1="455.4" y1="216.98" x2="758.1" y2="216.98" stroke="#e3e3e3" stroke-width="0.8"/>
<line x1="455.4" y1="193.37" x2="758.1" y2="193.37" stroke="#e3e3e3" stroke-width="0.8"/>
<line x1="455.4" y1="169.76" x2="758.1" y2="169.76" stroke="#e3e3e3" stroke-width="0.8"/>
<line x1="455.4" y1="146.15" x2="758.1" y2="146.15" stroke="#e3e3e3" stroke-width="0.8"/>
<line x1="455.4" y1="122.54" x2="758.1" y2="122.54" stroke="#e3e3e3" stroke-width="0.8"/>
<line x1="455.4" y1="98.93" x2="758.1" y2="98.93" stroke="#e3e3e3" stroke-width="0.8"/>
<line x1="455.4" y1="75.32" x2="758.1" y2="75.32" stroke="#e3e3e3" stroke-width="0.8"/>
<line x1="455.4" y1="51.71" x2="758.1" y2="51.71" stroke="#e3e3e3" stroke-width="0.8"/>
<line x1="498.64" y1="264.2" x2="498.64" y2="261.2" stroke="#686868" stroke-width="0.7"/>
<line x1="498.64" y1="28.1" x2="498.64" y2="31.1" stroke="#686868" stroke-width="0.7"/>
<line x1="541.89" y1="264.2" x2="541.89" y2="261.2" stroke="#686868" stroke-width="0.7"/>
<line x1="541.89" y1="28.1" x2="541.89" y2="31.1" stroke="#686868" stroke-width="0.7"/>
<line x1="585.13" y1="264.2" x2="585.13" y2="261.2" stroke="#686868" stroke-width="0.7"/>
<line x1="585.13" y1="28.1" x2="585.13" y2="31.1" stroke="#686868" stroke-width="0.7"/>
<line x1="628.37" y1="264.2" x2="628.37" y2="261.2" stroke="#686868" stroke-width="0.7"/>
<line x1="628.37" y1="28.1" x2="628.37" y2="31.1" stroke="#686868" stroke-width="0.7"/>
<line x1="671.61" y1="264.2" x2="671.61" y2="261.2" stroke="#686868" stroke-width="0.7"/>
<line x1="671.61" y1="28.1" x2="671.61" y2="31.1" stroke="#686868" stroke-width="0.7"/>
<line x1="714.86" y1="264.2" x2="714.86" y2="261.2" stroke="#686868" stroke-width="0.7"/>
<line x1="714.86" y1="28.1" x2="714.86" y2="31.1" stroke="#686868" stroke-width="0.7"/>
<line x1="455.4" y1="240.59" x2="458.4" y2="240.59" stroke="#686868" stroke-width="0.7"/>
<line x1="758.1" y1="240.59" x2="755.1" y2="240.59" stroke="#686868" stroke-width="0.7"/>
<line x1="455.4" y1="216.98" x2="458.4" y2="216.98" stroke="#686868" stroke-width="0.7"/>
<line x1="758.1" y1="216.98" x2="755.1" y2="216.98" stroke="#686868" stroke-width="0.7"/>
<line x1="455.4" y1="193.37" x2="458.4" y2="193.37" stroke="#686868" stroke-width="0.7"/>
<line x1="758.1" y1="193.37" x2="755.1" y2="193.37" stroke="#686868" stroke-width="0.7"/>
<line x1="455.4" y1="169.76" x2="458.4" y2="169.76" stroke="#686868" stroke-width="0.7"/>
<line x1="758.1" y1="169.76" x2="755.1" y2="169.76" stroke="#686868" stroke-width="0.7"/>
<line x1="455.4" y1="146.15" x2="458.4" y2="146.15" stroke="#686868" stroke-width="0.7"/>
<line x1="758.1" y1="146.15" x2="755.1" y2="146.15" stroke="#686868" stroke-width="0.7"/>
<line x1="455.4" y1="122.54" x2="458.4" y2="122.54" stroke="#686868" stroke-width="0.7"/>
<line x1="758.1" y1="122.54" x2="755.1" y2="122.54" stroke="#686868" stroke-width="0.7"/>
<line x1="455.4" y1="98.93" x2="458.4" y2="98.93" stroke="#686868" stroke-width="0.7"/>
<line x1="758.1" y1="98.93" x2="755.1" y2="98.93" stroke="#686868" stroke-width="0.7"/>
<line x1="455.4" y1="75.32" x2="458.4" y2="75.32" stroke="#686868" stroke-width="0.7"/>
<line x1="758.1" y1="75.32" x2="755.1" y2="75.32" stroke="#686868" stroke-width="0.7"/>
<line x1="455.4" y1="51.71" x2="458.4" y2="51.71" stroke="#686868" stroke-width="0.7"/>
<line x1="758.1" y1="51.71" x2="755.1" y2="51.71" stroke="#686868" stroke-width="0.7"/>
<rect x="455.4" y="28.1" width="302.70000000000005" height="236.1" fill="none" stroke="#686868" stroke-width="1.1"/>
<clipPath id="cr"><rect x="455.4" y="28.1" width="302.70000000000005" height="237.6"/></clipPath>
<g clip-path="url(#cr)" fill="none" stroke-width="2" stroke-linejoin="round" stroke-linecap="butt">
<path d="M455.4,221.8 L456.0,223.2 L456.7,224.5 L457.3,225.7 L458.0,226.9 L458.6,228.1 L459.3,229.2 L459.9,230.2 L460.6,231.2 L461.2,232.2 L461.9,233.2 L462.5,234.1 L463.2,234.9 L463.8,235.8 L464.5,236.6 L465.1,237.4 L465.8,238.1 L466.4,238.9 L467.1,239.6 L467.7,240.2 L468.4,240.9 L469.0,241.5 L469.7,242.1 L470.3,242.7 L471.0,243.3 L471.6,243.9 L472.3,244.4 L472.9,244.9 L473.6,245.4 L474.2,245.9 L474.9,246.4 L475.5,246.9 L476.2,247.3 L476.8,247.7 L477.5,248.2 L478.1,248.6 L478.8,249.0 L479.4,249.4 L480.0,249.7 L480.7,250.1 L481.3,250.5 L482.6,251.1 L483.9,251.8 L485.2,252.4 L486.5,253.0 L487.8,253.6 L489.1,254.1 L490.4,254.6 L491.7,255.1 L493.0,255.5 L494.3,256.0 L495.6,256.4 L496.9,256.8 L498.2,257.2 L499.5,257.6 L500.8,257.9 L502.1,258.3 L503.4,258.6 L504.7,258.9 L506.0,259.2 L507.3,259.5 L508.6,259.8 L509.9,260.1 L511.2,260.3 L512.5,260.6 L513.8,260.8 L515.1,261.1 L516.4,261.3 L517.7,261.5 L519.0,261.7 L520.3,262.0 L521.6,262.2 L522.9,262.4 L524.2,262.6 L525.5,262.7 L526.8,262.9 L528.0,263.1 L529.3,263.3 L530.6,263.5 L531.6,263.6 L531.8,263.6 L531.9,263.6 L532.0,263.6 L532.2,263.7 L532.4,263.7 L532.6,263.7 L532.8,263.7 L533.1,263.8 L533.2,263.8 L533.3,263.8 L533.5,263.8 L533.7,263.8 L533.9,263.9 L534.1,263.9 L534.4,263.9 L534.5,263.9 L534.6,263.8 L534.8,263.8 L535.0,263.8 L535.2,263.8 L535.4,263.7 L535.7,263.7 L535.8,263.7 L535.9,263.7 L536.1,263.7 L536.3,263.6 L536.5,263.6 L537.1,263.5 L538.4,263.4 L539.7,263.2 L541.0,263.1 L542.3,262.9 L543.6,262.8 L544.9,262.7 L546.2,262.5 L547.5,262.4 L548.8,262.3 L550.1,262.1 L551.4,262.0 L552.7,261.9 L554.0,261.7 L555.3,261.6 L556.6,261.5 L557.9,261.4 L559.2,261.2 L560.5,261.1 L561.8,261.0 L563.1,260.8 L564.4,260.7 L565.7,260.6 L567.0,260.5 L568.3,260.3 L569.6,260.2 L570.9,260.1 L572.2,260.0 L573.5,259.8 L574.8,259.7 L576.0,259.6 L577.3,259.5 L578.6,259.3 L579.9,259.2 L581.2,259.1 L582.5,258.9 L583.8,258.8 L585.1,258.6 L586.4,258.5 L587.7,258.3 L589.0,258.2 L590.3,258.0 L591.6,257.9 L592.9,257.7 L594.2,257.5 L595.5,257.4 L596.8,257.2 L598.1,257.0 L599.4,256.8 L600.7,256.6 L602.0,256.4 L603.3,256.2 L604.6,256.0 L605.9,255.8 L607.2,255.6 L608.5,255.3 L609.8,255.1 L611.1,254.8 L612.4,254.5 L613.7,254.2 L615.0,253.9 L616.3,253.6 L617.6,253.2 L618.9,252.9 L620.2,252.5 L621.5,252.1 L622.7,251.6 L624.0,251.1 L625.3,250.6 L626.6,250.0 L627.9,249.4 L628.4,249.2 L628.6,249.1 L628.8,249.0 L629.0,248.9 L629.2,248.8 L629.5,248.6 L629.7,248.5 L629.9,248.4 L630.1,248.3 L630.3,248.1 L630.5,248.0 L630.7,247.9 L631.0,247.8 L631.2,247.6 L631.4,247.5 L631.6,247.4 L631.8,247.2 L632.0,247.1 L632.3,246.9 L632.5,246.8 L632.7,246.6 L632.9,246.5 L633.1,246.3 L633.3,246.2 L633.6,246.0 L633.8,245.8 L634.0,245.7 L634.2,245.5 L634.4,245.3 L634.6,245.1 L634.9,245.0 L635.1,244.8 L635.3,244.6 L635.5,244.4 L635.7,244.2 L635.9,244.0 L636.2,243.8 L636.4,243.6 L636.6,243.4 L636.8,243.2 L637.0,243.0 L637.2,242.7 L637.5,242.5 L637.7,242.3 L637.9,242.0 L638.1,241.8 L638.3,241.5 L638.5,241.3 L638.7,241.0 L639.0,240.7 L639.2,240.4 L639.4,240.2 L639.6,239.9 L639.8,239.6 L640.0,239.3 L640.3,238.9 L640.5,238.6 L640.7,238.3 L640.9,237.9 L641.1,237.6 L641.3,237.2 L641.6,236.9 L641.8,236.5 L642.0,236.1 L642.2,235.7 L642.4,235.3 L642.6,234.9 L642.9,234.4 L643.1,234.0 L643.3,233.5 L643.5,233.0 L643.7,232.5 L643.9,232.0 L644.2,231.5 L644.4,230.9 L644.6,230.3 L644.8,229.7 L645.0,229.1 L645.2,228.5 L645.5,227.8 L645.7,227.2 L645.9,226.4 L646.1,225.7 L646.3,224.9 L646.5,224.1 L646.7,223.3 L647.0,222.4 L647.2,221.5 L647.4,220.6 L647.6,219.6 L647.8,218.6 L648.0,217.5 L648.3,216.4 L648.5,215.2 L648.7,214.0 L648.9,212.7 L649.1,211.3 L649.3,209.9 L649.6,208.3 L649.8,206.7 L650.0,205.1 L650.2,203.3 L650.4,201.4 L650.6,199.4 L650.9,197.3 L650.9,196.5 L651.0,195.8 L651.1,195.1 L651.1,195.0 L651.2,194.3 L651.2,193.6 L651.3,192.8 L651.4,192.0 L651.4,191.2 L651.5,190.4 L651.5,190.3 L651.6,189.6 L651.6,188.8 L651.7,187.9 L651.7,187.7 L651.8,187.1 L651.8,186.2 L651.9,185.3 L651.9,185.0 L652.0,184.4 L652.1,183.5 L652.1,182.6 L652.2,182.1 L652.2,181.7 L652.3,180.7 L652.3,179.7 L652.4,179.1 L652.4,178.8 L652.5,177.8 L652.5,176.8 L652.6,176.0 L652.6,175.8 L652.7,174.8 L652.7,173.7 L652.8,172.8 L652.8,172.7 L652.9,171.7 L653.0,170.6 L653.0,169.6 L653.1,168.6 L653.2,167.6 L653.2,166.5 L653.2,166.4 L653.3,165.6 L653.4,164.6 L653.4,163.6 L653.5,163.4 L653.5,162.7 L653.6,161.8 L653.6,161.0 L653.7,160.7 L653.7,160.2 L653.8,159.5 L653.9,158.9 L653.9,158.6 L653.9,158.4 L654.0,158.0 L654.1,157.6 L654.1,157.5 L654.1,157.5 L654.2,157.5 L654.3,157.7 L654.3,158.0 L654.3,158.1 L654.4,158.7 L654.5,159.6 L654.5,160.6 L654.5,160.8 L654.6,162.3 L654.7,164.2 L654.7,166.5 L654.8,169.2 L654.9,172.3 L655.0,175.9 L655.0,176.4 L655.0,180.1 L655.1,184.7 L655.2,189.9 L655.2,191.2 L655.2,195.5 L655.3,201.6 L655.4,208.1 L655.4,210.6 L655.4,214.8 L655.5,221.8 L655.6,228.8 L655.6,232.3 L655.6,235.7 L655.7,242.2 L655.8,248.3 L655.8,251.7 L655.9,253.6 L655.9,257.9 L656.0,261.2 L656.0,262.8 L656.1,263.2 L656.1,263.9 L656.2,263.2 L656.3,261.5 L656.3,261.2 L656.3,258.0 L656.4,253.6 L656.5,248.3 L656.5,242.3 L656.6,235.8 L656.7,229.0 L656.7,228.1 L656.8,222.0 L656.8,215.1 L656.9,208.4 L656.9,206.8 L657.0,202.0 L657.0,196.0 L657.1,190.4 L657.1,188.5 L657.2,185.4 L657.2,180.8 L657.3,176.8 L657.3,174.9 L657.4,173.2 L657.4,170.1 L657.5,167.5 L657.6,166.1 L657.6,165.3 L657.7,163.5 L657.7,162.1 L657.8,161.2 L657.8,161.0 L657.9,160.1 L657.9,159.6 L658.0,159.3 L658.0,159.2 L658.1,159.1 L658.1,159.2 L658.2,159.4 L658.3,159.7 L658.3,160.2 L658.4,160.8 L658.4,160.9 L658.5,161.5 L658.6,162.2 L658.6,163.0 L658.6,163.2 L658.7,163.9 L658.8,164.8 L658.8,165.8 L658.9,166.1 L658.9,166.7 L659.0,167.7 L659.0,168.8 L659.1,169.3 L659.1,169.8 L659.2,170.9 L659.2,171.9 L659.3,172.6 L659.3,173.0 L659.4,174.0 L659.5,175.1 L659.5,175.9 L659.5,176.1 L659.6,177.2 L659.7,178.2 L659.7,179.1 L659.7,179.2 L659.8,180.3 L659.9,181.3 L659.9,182.3 L660.0,183.2 L660.1,184.2 L660.1,185.2 L660.2,185.3 L660.2,186.1 L660.3,187.0 L660.4,187.9 L660.4,188.2 L660.4,188.8 L660.5,189.7 L660.6,190.6 L660.6,190.9 L660.6,191.4 L660.7,192.3 L660.8,193.1 L660.8,193.5 L660.8,193.9 L660.9,194.7 L661.0,195.5 L661.0,196.0 L661.0,196.3 L661.1,197.0 L661.2,197.8 L661.2,198.3 L661.3,198.5 L661.5,200.5 L661.7,202.6 L661.9,204.6 L662.1,206.4 L662.3,208.2 L662.5,209.9 L662.7,211.5 L663.0,213.0 L663.2,214.4 L663.4,215.8 L663.6,217.1 L663.8,218.3 L664.0,219.5 L664.3,220.6 L664.5,221.7 L664.7,222.7 L664.9,223.7 L665.1,224.6 L665.3,225.5 L665.6,226.4 L665.8,227.2 L666.0,228.0 L666.2,228.8 L666.4,229.5 L666.6,230.2 L666.9,230.9 L667.1,231.6 L667.3,232.2 L667.5,232.8 L667.7,233.4 L667.9,234.0 L668.2,234.5 L668.4,235.0 L668.6,235.6 L668.8,236.1 L669.0,236.5 L669.2,237.0 L669.5,237.5 L669.7,237.9 L669.9,238.3 L670.1,238.7 L670.3,239.1 L670.5,239.5 L670.7,239.9 L671.0,240.3 L671.2,240.6 L671.4,241.0 L671.6,241.3 L671.8,241.6 L672.0,242.0 L672.3,242.3 L672.5,242.6 L672.7,242.9 L672.9,243.2 L673.1,243.5 L673.3,243.7 L673.6,244.0 L673.8,244.3 L674.0,244.5 L674.2,244.8 L674.4,245.0 L674.6,245.3 L674.9,245.5 L675.1,245.7 L675.3,246.0 L675.5,246.2 L675.7,246.4 L675.9,246.6 L676.2,246.8 L676.4,247.0 L676.6,247.2 L676.8,247.4 L677.0,247.6 L677.2,247.8 L677.5,248.0 L677.7,248.1 L677.9,248.3 L678.1,248.5 L678.3,248.7 L678.5,248.8 L678.7,249.0 L679.0,249.1 L679.2,249.3 L679.4,249.5 L679.6,249.6 L679.8,249.8 L680.0,249.9 L680.3,250.0 L680.5,250.2 L680.7,250.3 L680.9,250.5 L681.1,250.6 L681.3,250.7 L681.6,250.9 L681.8,251.0 L682.0,251.1 L682.2,251.2 L682.4,251.3 L682.6,251.5 L682.9,251.6 L683.1,251.7 L683.3,251.8 L683.5,251.9 L683.7,252.0 L683.9,252.1 L684.2,252.3 L684.4,252.4 L684.6,252.5 L684.8,252.6 L685.0,252.7 L685.2,252.8 L685.5,252.9 L685.7,253.0 L685.9,253.1 L686.1,253.2 L686.3,253.2 L686.5,253.3 L686.7,253.4 L687.0,253.5 L687.2,253.6 L687.4,253.7 L687.6,253.8 L687.8,253.9 L688.0,253.9 L688.3,254.0 L688.5,254.1 L688.7,254.2 L688.9,254.3 L690.2,254.7 L691.5,255.1 L692.8,255.5 L694.1,255.9 L695.4,256.3 L696.7,256.6 L698.0,256.9 L699.3,257.2 L700.6,257.4 L701.9,257.7 L703.2,257.9 L704.5,258.2 L705.8,258.4 L707.1,258.6 L708.4,258.8 L709.7,259.0 L711.0,259.2 L712.3,259.4 L713.6,259.5 L714.9,259.7 L716.2,259.8 L717.5,260.0 L718.7,260.1 L720.0,260.3 L721.3,260.4 L722.6,260.5 L723.9,260.7 L725.2,260.8 L726.5,260.9 L727.8,261.0 L729.1,261.1 L730.4,261.2 L731.7,261.3 L733.0,261.4 L734.3,261.5 L735.6,261.6 L736.9,261.7 L738.2,261.8 L739.5,261.9 L740.8,262.0 L742.1,262.1 L743.4,262.2 L744.7,262.2 L746.0,262.3 L747.3,262.4 L748.6,262.5 L749.9,262.5 L751.2,262.6 L752.5,262.7 L753.8,262.8 L755.1,262.8 L756.4,262.9 L757.7,263.0" stroke="#0072BD"/>
<path d="M455.4,192.0 L456.0,194.4 L456.7,196.6 L457.3,198.8 L458.0,200.9 L458.6,202.9 L459.3,204.8 L459.9,206.6 L460.6,208.4 L461.2,210.1 L461.9,211.7 L462.5,213.3 L463.2,214.8 L463.8,216.2 L464.5,217.6 L465.1,219.0 L465.8,220.3 L466.4,221.5 L467.1,222.7 L467.7,223.9 L468.4,225.0 L469.0,226.1 L469.7,227.1 L470.3,228.2 L471.0,229.1 L471.6,230.1 L472.3,231.0 L472.9,231.9 L473.6,232.8 L474.2,233.6 L474.9,234.4 L475.5,235.2 L476.2,236.0 L476.8,236.7 L477.5,237.4 L478.1,238.1 L478.8,238.8 L479.4,239.5 L480.0,240.1 L480.7,240.7 L481.3,241.3 L482.6,242.5 L483.9,243.6 L485.2,244.7 L486.5,245.7 L487.8,246.6 L489.1,247.5 L490.4,248.3 L491.7,249.2 L493.0,249.9 L494.3,250.7 L495.6,251.4 L496.9,252.1 L498.2,252.7 L499.5,253.3 L500.8,253.9 L502.1,254.5 L503.4,255.1 L504.7,255.6 L506.0,256.1 L507.3,256.6 L508.6,257.1 L509.9,257.5 L511.2,258.0 L512.5,258.4 L513.8,258.8 L515.1,259.2 L516.4,259.6 L517.7,259.9 L519.0,260.3 L520.3,260.7 L521.6,261.0 L522.9,261.3 L524.2,261.6 L525.5,262.0 L526.8,262.3 L528.0,262.6 L529.3,262.8 L530.6,263.1 L531.8,263.4 L531.9,263.4 L532.0,263.4 L532.2,263.5 L532.4,263.5 L532.6,263.5 L532.8,263.6 L533.1,263.6 L533.2,263.7 L533.3,263.7 L533.5,263.7 L533.7,263.8 L533.9,263.8 L534.1,263.9 L534.4,263.9 L534.5,263.9 L534.6,263.9 L534.8,263.8 L535.0,263.8 L535.2,263.7 L535.4,263.7 L535.7,263.6 L535.8,263.6 L535.9,263.6 L536.1,263.6 L536.3,263.5 L536.5,263.5 L536.7,263.4 L537.1,263.4 L538.4,263.1 L539.7,262.9 L541.0,262.6 L542.3,262.4 L543.6,262.2 L544.9,261.9 L546.2,261.7 L547.5,261.5 L548.8,261.3 L550.1,261.1 L551.4,260.9 L552.7,260.6 L554.0,260.4 L555.3,260.2 L556.6,260.0 L557.9,259.8 L559.2,259.6 L560.5,259.4 L561.8,259.2 L563.1,259.0 L564.4,258.8 L565.7,258.6 L567.0,258.4 L568.3,258.2 L569.6,258.0 L570.9,257.8 L572.2,257.6 L573.5,257.4 L574.8,257.2 L576.0,257.0 L577.3,256.8 L578.6,256.6 L579.9,256.4 L581.2,256.2 L582.5,255.9 L583.8,255.7 L585.1,255.5 L586.4,255.3 L587.7,255.0 L589.0,254.8 L590.3,254.6 L591.6,254.3 L592.9,254.1 L594.2,253.8 L595.5,253.5 L596.8,253.3 L598.1,253.0 L599.4,252.7 L600.7,252.4 L602.0,252.1 L603.3,251.7 L604.6,251.4 L605.9,251.1 L607.2,250.7 L608.5,250.3 L609.8,249.9 L611.1,249.5 L612.4,249.1 L613.7,248.6 L615.0,248.1 L616.3,247.6 L617.6,247.1 L618.9,246.5 L620.2,245.9 L621.5,245.3 L622.7,244.6 L624.0,243.9 L625.3,243.1 L626.6,242.2 L627.9,241.3 L628.4,240.9 L628.6,240.8 L628.8,240.6 L629.0,240.4 L629.2,240.3 L629.5,240.1 L629.7,239.9 L629.9,239.7 L630.1,239.5 L630.3,239.4 L630.5,239.2 L630.7,239.0 L631.0,238.8 L631.2,238.6 L631.4,238.4 L631.6,238.2 L631.8,237.9 L632.0,237.7 L632.3,237.5 L632.5,237.3 L632.7,237.1 L632.9,236.8 L633.1,236.6 L633.3,236.4 L633.6,236.1 L633.8,235.9 L634.0,235.6 L634.2,235.4 L634.4,235.1 L634.6,234.9 L634.9,234.6 L635.1,234.3 L635.3,234.1 L635.5,233.8 L635.7,233.5 L635.9,233.2 L636.2,232.9 L636.4,232.6 L636.6,232.3 L636.8,232.0 L637.0,231.6 L637.2,231.3 L637.5,231.0 L637.7,230.6 L637.9,230.3 L638.1,229.9 L638.3,229.5 L638.5,229.2 L638.7,228.8 L639.0,228.4 L639.2,228.0 L639.4,227.6 L639.6,227.2 L639.8,226.7 L640.0,226.3 L640.3,225.8 L640.5,225.4 L640.7,224.9 L640.9,224.4 L641.1,223.9 L641.3,223.4 L641.6,222.9 L641.8,222.3 L642.0,221.8 L642.2,221.2 L642.4,220.6 L642.6,220.1 L642.9,219.4 L643.1,218.8 L643.3,218.2 L643.5,217.5 L643.7,216.8 L643.9,216.1 L644.2,215.4 L644.4,214.6 L644.6,213.9 L644.8,213.1 L645.0,212.2 L645.2,211.4 L645.5,210.5 L645.7,209.6 L645.9,208.7 L646.1,207.7 L646.3,206.8 L646.5,205.7 L646.7,204.7 L647.0,203.6 L647.2,202.4 L647.4,201.3 L647.6,200.1 L647.8,198.8 L648.0,197.5 L648.3,196.2 L648.5,194.8 L648.7,193.3 L648.9,191.8 L649.1,190.3 L649.3,188.7 L649.6,187.1 L649.8,185.3 L650.0,183.6 L650.2,181.8 L650.4,179.9 L650.6,178.0 L650.9,176.1 L651.1,174.1 L651.3,172.1 L651.4,171.3 L651.4,170.6 L651.5,170.0 L651.5,170.0 L651.6,169.3 L651.7,168.7 L651.7,168.0 L651.8,167.4 L651.9,166.7 L651.9,166.1 L651.9,166.0 L652.0,165.5 L652.1,164.9 L652.1,164.3 L652.2,164.1 L652.2,163.6 L652.3,163.1 L652.3,162.5 L652.4,162.3 L652.4,161.9 L652.5,161.4 L652.6,160.8 L652.6,160.6 L652.6,160.3 L652.7,159.8 L652.8,159.4 L652.8,159.1 L652.8,158.9 L652.9,158.5 L653.0,158.2 L653.0,157.9 L653.0,157.9 L653.1,157.6 L653.2,157.3 L653.2,157.2 L653.2,157.1 L653.3,157.0 L653.4,156.9 L653.5,156.9 L653.5,157.0 L653.6,157.1 L653.7,157.3 L653.7,157.4 L653.7,157.6 L653.8,158.0 L653.9,158.6 L653.9,158.7 L653.9,159.2 L654.0,159.9 L654.1,160.8 L654.1,161.1 L654.1,161.8 L654.2,162.9 L654.3,164.2 L654.3,164.9 L654.4,165.6 L654.4,167.2 L654.5,169.0 L654.5,170.2 L654.6,171.0 L654.6,173.2 L654.7,175.5 L654.7,177.4 L654.8,178.1 L654.8,180.8 L654.9,183.8 L655.0,186.5 L655.0,186.9 L655.0,190.3 L655.1,193.9 L655.2,197.6 L655.3,201.5 L655.3,205.6 L655.4,209.8 L655.4,210.3 L655.5,214.1 L655.5,218.5 L655.6,222.9 L655.6,224.0 L655.7,227.3 L655.7,231.7 L655.8,236.0 L655.8,237.6 L655.9,240.2 L655.9,244.2 L656.0,248.0 L656.0,249.8 L656.1,251.5 L656.2,254.6 L656.2,257.3 L656.3,258.8 L656.3,259.6 L656.4,261.5 L656.4,262.8 L656.5,263.5 L656.5,263.6 L656.6,263.9 L656.6,263.6 L656.7,262.9 L656.7,262.8 L656.8,261.5 L656.8,259.7 L656.9,257.4 L657.0,254.6 L657.1,251.5 L657.1,248.1 L657.1,247.6 L657.2,244.3 L657.3,240.4 L657.3,236.2 L657.3,235.2 L657.4,232.0 L657.5,227.6 L657.5,223.2 L657.6,221.6 L657.6,218.9 L657.7,214.5 L657.7,210.3 L657.8,208.2 L657.8,206.2 L657.9,202.2 L657.9,198.4 L658.0,196.0 L658.0,194.7 L658.1,191.2 L658.2,188.0 L658.2,185.6 L658.2,184.9 L658.3,182.0 L658.4,179.3 L658.4,177.2 L658.4,176.9 L658.5,174.6 L658.6,172.5 L658.6,170.7 L658.7,168.9 L658.8,167.4 L658.8,166.1 L658.9,165.9 L658.9,164.8 L659.0,163.8 L659.1,162.9 L659.1,162.7 L659.1,162.1 L659.2,161.4 L659.3,160.9 L659.3,160.7 L659.3,160.4 L659.4,160.1 L659.5,159.9 L659.5,159.8 L659.5,159.7 L659.6,159.6 L659.7,159.6 L659.7,159.7 L659.7,159.7 L659.8,159.8 L659.9,160.0 L659.9,160.2 L660.0,160.3 L660.0,160.6 L660.1,160.9 L660.2,161.2 L660.2,161.3 L660.2,161.7 L660.3,162.1 L660.4,162.6 L660.4,163.1 L660.5,163.7 L660.6,164.2 L660.6,164.3 L660.6,164.8 L660.7,165.4 L660.8,166.0 L660.8,166.1 L660.9,166.6 L660.9,167.2 L661.0,167.8 L661.0,168.1 L661.1,168.5 L661.1,169.1 L661.2,169.8 L661.2,170.1 L661.3,170.5 L661.3,171.1 L661.4,171.8 L661.5,172.2 L661.5,172.5 L661.5,173.1 L661.6,173.8 L661.7,174.3 L661.7,174.5 L661.9,176.4 L662.1,178.5 L662.3,180.5 L662.5,182.5 L662.7,184.5 L663.0,186.4 L663.2,188.2 L663.4,190.0 L663.6,191.7 L663.8,193.4 L664.0,195.0 L664.3,196.6 L664.5,198.1 L664.7,199.5 L664.9,200.9 L665.1,202.3 L665.3,203.6 L665.6,204.9 L665.8,206.1 L666.0,207.3 L666.2,208.4 L666.4,209.5 L666.6,210.6 L666.9,211.6 L667.1,212.6 L667.3,213.6 L667.5,214.5 L667.7,215.4 L667.9,216.3 L668.2,217.1 L668.4,218.0 L668.6,218.8 L668.8,219.5 L669.0,220.3 L669.2,221.0 L669.5,221.7 L669.7,222.4 L669.9,223.1 L670.1,223.7 L670.3,224.3 L670.5,225.0 L670.7,225.6 L671.0,226.1 L671.2,226.7 L671.4,227.3 L671.6,227.8 L671.8,228.3 L672.0,228.8 L672.3,229.3 L672.5,229.8 L672.7,230.3 L672.9,230.7 L673.1,231.2 L673.3,231.6 L673.6,232.1 L673.8,232.5 L674.0,232.9 L674.2,233.3 L674.4,233.7 L674.6,234.1 L674.9,234.4 L675.1,234.8 L675.3,235.2 L675.5,235.5 L675.7,235.9 L675.9,236.2 L676.2,236.5 L676.4,236.9 L676.6,237.2 L676.8,237.5 L677.0,237.8 L677.2,238.1 L677.5,238.4 L677.7,238.7 L677.9,238.9 L678.1,239.2 L678.3,239.5 L678.5,239.8 L678.7,240.0 L679.0,240.3 L679.2,240.5 L679.4,240.8 L679.6,241.0 L679.8,241.3 L680.0,241.5 L680.3,241.7 L680.5,241.9 L680.7,242.2 L680.9,242.4 L681.1,242.6 L681.3,242.8 L681.6,243.0 L681.8,243.2 L682.0,243.4 L682.2,243.6 L682.4,243.8 L682.6,244.0 L682.9,244.2 L683.1,244.4 L683.3,244.6 L683.5,244.8 L683.7,244.9 L683.9,245.1 L684.2,245.3 L684.4,245.5 L684.6,245.6 L684.8,245.8 L685.0,245.9 L685.2,246.1 L685.5,246.3 L685.7,246.4 L685.9,246.6 L686.1,246.7 L686.3,246.9 L686.5,247.0 L686.7,247.2 L687.0,247.3 L687.2,247.5 L687.4,247.6 L687.6,247.7 L687.8,247.9 L688.0,248.0 L688.3,248.1 L688.5,248.3 L688.7,248.4 L688.9,248.5 L690.2,249.2 L691.5,249.9 L692.8,250.6 L694.1,251.2 L695.4,251.7 L696.7,252.2 L698.0,252.7 L699.3,253.2 L700.6,253.6 L701.9,254.0 L703.2,254.4 L704.5,254.8 L705.8,255.1 L707.1,255.5 L708.4,255.8 L709.7,256.1 L711.0,256.4 L712.3,256.7 L713.6,256.9 L714.9,257.2 L716.2,257.4 L717.5,257.7 L718.7,257.9 L720.0,258.1 L721.3,258.3 L722.6,258.6 L723.9,258.8 L725.2,258.9 L726.5,259.1 L727.8,259.3 L729.1,259.5 L730.4,259.7 L731.7,259.8 L733.0,260.0 L734.3,260.1 L735.6,260.3 L736.9,260.4 L738.2,260.6 L739.5,260.7 L740.8,260.9 L742.1,261.0 L743.4,261.1 L744.7,261.2 L746.0,261.4 L747.3,261.5 L748.6,261.6 L749.9,261.7 L751.2,261.8 L752.5,262.0 L753.8,262.1 L755.1,262.2 L756.4,262.3 L757.7,262.4" stroke="#D95319"/>
<path d="M455.4,52.8 L456.0,59.5 L456.7,66.0 L457.3,72.2 L458.0,78.1 L458.6,83.8 L459.3,89.3 L459.9,94.6 L460.6,99.6 L461.2,104.5 L461.9,109.2 L462.5,113.7 L463.2,118.1 L463.8,122.3 L464.5,126.3 L465.1,130.2 L465.8,134.0 L466.4,137.6 L467.1,141.2 L467.7,144.6 L468.4,147.9 L469.0,151.0 L469.7,154.1 L470.3,157.1 L471.0,160.0 L471.6,162.8 L472.3,165.5 L472.9,168.1 L473.6,170.7 L474.2,173.1 L474.9,175.5 L475.5,177.9 L476.2,180.1 L476.8,182.3 L477.5,184.4 L478.1,186.5 L478.8,188.5 L479.4,190.5 L480.0,192.4 L480.7,194.2 L481.3,196.0 L482.6,199.5 L483.9,202.8 L485.2,205.9 L486.5,208.9 L487.8,211.7 L489.1,214.4 L490.4,216.9 L491.7,219.4 L493.0,221.7 L494.3,223.9 L495.6,226.1 L496.9,228.1 L498.2,230.1 L499.5,232.0 L500.8,233.8 L502.1,235.5 L503.4,237.2 L504.7,238.8 L506.0,240.3 L507.3,241.8 L508.6,243.2 L509.9,244.6 L511.2,245.9 L512.5,247.2 L513.8,248.5 L515.1,249.7 L516.4,250.8 L517.7,252.0 L519.0,253.1 L520.3,254.1 L521.6,255.2 L522.9,256.2 L524.2,257.2 L525.5,258.1 L526.8,259.0 L528.0,259.9 L529.3,260.8 L530.6,261.7 L531.5,262.3 L531.7,262.4 L531.9,262.5 L532.0,262.5 L532.2,262.7 L532.4,262.8 L532.6,263.0 L532.8,263.1 L533.0,263.2 L533.2,263.4 L533.3,263.4 L533.5,263.5 L533.7,263.6 L533.9,263.8 L534.1,263.9 L534.3,263.8 L534.5,263.6 L534.6,263.6 L534.8,263.5 L535.0,263.4 L535.2,263.2 L535.4,263.1 L535.6,263.0 L535.8,262.9 L535.8,262.8 L536.1,262.7 L536.3,262.6 L536.5,262.5 L537.1,262.1 L538.4,261.3 L539.7,260.6 L541.0,259.9 L542.3,259.1 L543.6,258.4 L544.9,257.7 L546.2,257.0 L547.5,256.4 L548.8,255.7 L550.1,255.0 L551.4,254.4 L552.7,253.7 L554.0,253.1 L555.3,252.5 L556.6,251.8 L557.9,251.2 L559.2,250.6 L560.5,250.0 L561.8,249.4 L563.1,248.8 L564.4,248.1 L565.7,247.5 L567.0,246.9 L568.3,246.3 L569.6,245.7 L570.9,245.1 L572.2,244.5 L573.5,243.8 L574.8,243.2 L576.0,242.6 L577.3,241.9 L578.6,241.3 L579.9,240.7 L581.2,240.0 L582.5,239.3 L583.8,238.7 L585.1,238.0 L586.4,237.3 L587.7,236.6 L589.0,235.9 L590.3,235.1 L591.6,234.4 L592.9,233.6 L594.2,232.8 L595.5,232.0 L596.8,231.2 L598.1,230.3 L599.4,229.5 L600.7,228.6 L602.0,227.6 L603.3,226.7 L604.6,225.7 L605.9,224.7 L607.2,223.6 L608.5,222.5 L609.8,221.3 L611.1,220.1 L612.4,218.9 L613.7,217.6 L615.0,216.2 L616.3,214.8 L617.6,213.3 L618.9,211.7 L620.2,210.0 L621.5,208.2 L622.7,206.4 L624.0,204.4 L625.3,202.3 L626.6,200.1 L627.9,197.7 L628.4,196.9 L628.6,196.5 L628.8,196.1 L629.0,195.7 L629.2,195.2 L629.5,194.8 L629.7,194.4 L629.9,193.9 L630.1,193.5 L630.3,193.0 L630.5,192.6 L630.7,192.1 L631.0,191.6 L631.2,191.2 L631.4,190.7 L631.6,190.2 L631.8,189.7 L632.0,189.2 L632.3,188.7 L632.5,188.2 L632.7,187.7 L632.9,187.2 L633.1,186.7 L633.3,186.2 L633.6,185.7 L633.8,185.1 L634.0,184.6 L634.2,184.1 L634.4,183.5 L634.6,183.0 L634.9,182.4 L635.1,181.8 L635.3,181.3 L635.5,180.7 L635.7,180.1 L635.9,179.5 L636.2,178.9 L636.4,178.4 L636.6,177.8 L636.8,177.2 L637.0,176.5 L637.2,175.9 L637.5,175.3 L637.7,174.7 L637.9,174.1 L638.1,173.4 L638.3,172.8 L638.5,172.2 L638.7,171.5 L639.0,170.9 L639.2,170.3 L639.4,169.6 L639.6,169.0 L639.8,168.3 L640.0,167.7 L640.3,167.0 L640.5,166.4 L640.7,165.7 L640.9,165.1 L641.1,164.5 L641.3,163.8 L641.6,163.2 L641.8,162.6 L642.0,162.0 L642.2,161.4 L642.4,160.8 L642.6,160.2 L642.9,159.6 L643.1,159.0 L643.3,158.5 L643.5,158.0 L643.7,157.5 L643.9,157.0 L644.2,156.6 L644.4,156.1 L644.6,155.8 L644.8,155.4 L645.0,155.1 L645.2,154.8 L645.5,154.6 L645.7,154.4 L645.9,154.3 L646.1,154.2 L646.3,154.2 L646.5,154.3 L646.7,154.5 L647.0,154.7 L647.2,155.0 L647.4,155.4 L647.6,156.0 L647.8,156.6 L648.0,157.4 L648.3,158.2 L648.5,159.3 L648.7,160.4 L648.9,161.7 L649.1,163.2 L649.3,164.8 L649.6,166.7 L649.8,168.7 L650.0,170.9 L650.2,173.2 L650.4,175.8 L650.6,178.6 L650.9,181.6 L650.9,182.1 L651.0,183.1 L651.0,184.2 L651.1,184.8 L651.1,185.2 L651.2,186.3 L651.2,187.4 L651.3,188.2 L651.3,188.5 L651.4,189.7 L651.4,190.8 L651.5,191.8 L651.5,192.0 L651.6,193.2 L651.7,194.4 L651.7,195.6 L651.8,196.9 L651.9,198.2 L651.9,199.5 L651.9,199.6 L652.0,200.8 L652.1,202.1 L652.1,203.4 L652.2,203.7 L652.2,204.8 L652.3,206.1 L652.3,207.5 L652.4,208.0 L652.4,208.9 L652.5,210.3 L652.6,211.7 L652.6,212.4 L652.6,213.1 L652.7,214.5 L652.8,216.0 L652.8,216.9 L652.8,217.4 L652.9,218.9 L653.0,220.3 L653.0,221.4 L653.0,221.8 L653.1,223.2 L653.2,224.7 L653.2,225.9 L653.2,226.1 L653.3,227.5 L653.4,229.0 L653.5,230.4 L653.5,231.8 L653.6,233.3 L653.7,234.7 L653.7,234.8 L653.7,236.1 L653.8,237.4 L653.9,238.8 L653.9,239.1 L653.9,240.1 L654.0,241.5 L654.1,242.8 L654.1,243.2 L654.1,244.0 L654.2,245.3 L654.3,246.5 L654.3,247.1 L654.4,247.7 L654.4,248.9 L654.5,250.0 L654.5,250.7 L654.6,251.1 L654.6,252.2 L654.7,253.2 L654.7,254.0 L654.8,254.2 L654.8,255.1 L654.9,256.1 L655.0,256.8 L655.0,256.9 L655.0,257.7 L655.1,258.5 L655.2,259.2 L655.3,259.9 L655.3,260.5 L655.4,261.1 L655.4,261.2 L655.5,261.6 L655.5,262.1 L655.6,262.5 L655.6,262.6 L655.7,262.9 L655.7,263.2 L655.8,263.4 L655.8,263.5 L655.9,263.6 L655.9,263.8 L656.0,263.9 L656.0,263.9 L656.1,263.9 L656.2,263.9 L656.2,263.8 L656.3,263.7 L656.3,263.6 L656.4,263.4 L656.4,263.2 L656.5,263.0 L656.5,262.9 L656.6,262.5 L656.6,262.1 L656.7,261.7 L656.7,261.6 L656.8,261.1 L656.8,260.6 L656.9,259.9 L657.0,259.3 L657.1,258.6 L657.1,257.8 L657.1,257.7 L657.2,257.0 L657.3,256.1 L657.3,255.2 L657.3,255.0 L657.4,254.3 L657.5,253.3 L657.5,252.3 L657.6,251.9 L657.6,251.3 L657.7,250.2 L657.7,249.1 L657.8,248.5 L657.8,247.9 L657.9,246.8 L657.9,245.6 L658.0,244.8 L658.0,244.4 L658.1,243.1 L658.2,241.8 L658.2,240.9 L658.2,240.6 L658.3,239.2 L658.4,237.9 L658.4,236.8 L658.4,236.6 L658.5,235.2 L658.6,233.9 L658.6,232.5 L658.7,231.1 L658.8,229.7 L658.8,228.4 L658.9,228.2 L658.9,227.0 L659.0,225.6 L659.1,224.2 L659.1,223.8 L659.1,222.8 L659.2,221.4 L659.3,220.0 L659.3,219.5 L659.3,218.6 L659.4,217.3 L659.5,215.9 L659.5,215.2 L659.5,214.5 L659.6,213.2 L659.7,211.8 L659.7,211.0 L659.7,210.5 L659.8,209.2 L659.9,207.9 L659.9,206.9 L660.0,206.6 L660.0,205.3 L660.1,204.1 L660.2,203.0 L660.2,202.8 L660.2,201.6 L660.3,200.4 L660.4,199.2 L660.4,198.0 L660.5,196.9 L660.6,195.8 L660.6,195.6 L660.6,194.6 L660.7,193.5 L660.8,192.5 L660.8,192.2 L660.9,191.4 L660.9,190.4 L661.0,189.4 L661.0,189.0 L661.1,188.4 L661.1,187.4 L661.2,186.5 L661.2,186.0 L661.5,183.2 L661.7,180.6 L661.9,178.2 L662.1,176.0 L662.3,174.1 L662.5,172.3 L662.7,170.7 L663.0,169.2 L663.2,167.9 L663.4,166.8 L663.6,165.9 L663.8,165.0 L664.0,164.4 L664.3,163.8 L664.5,163.3 L664.7,163.0 L664.9,162.7 L665.1,162.6 L665.3,162.5 L665.6,162.5 L665.8,162.6 L666.0,162.8 L666.2,163.0 L666.4,163.3 L666.6,163.6 L666.9,164.0 L667.1,164.4 L667.3,164.8 L667.5,165.3 L667.7,165.8 L667.9,166.4 L668.2,167.0 L668.4,167.6 L668.6,168.2 L668.8,168.8 L669.0,169.5 L669.2,170.1 L669.5,170.8 L669.7,171.5 L669.9,172.2 L670.1,172.9 L670.3,173.6 L670.5,174.3 L670.7,175.0 L671.0,175.7 L671.2,176.4 L671.4,177.2 L671.6,177.9 L671.8,178.6 L672.0,179.3 L672.3,180.0 L672.5,180.7 L672.7,181.5 L672.9,182.2 L673.1,182.9 L673.3,183.6 L673.6,184.3 L673.8,185.0 L674.0,185.6 L674.2,186.3 L674.4,187.0 L674.6,187.7 L674.9,188.3 L675.1,189.0 L675.3,189.7 L675.5,190.3 L675.7,190.9 L675.9,191.6 L676.2,192.2 L676.4,192.8 L676.6,193.4 L676.8,194.1 L677.0,194.7 L677.2,195.3 L677.5,195.9 L677.7,196.4 L677.9,197.0 L678.1,197.6 L678.3,198.2 L678.5,198.7 L678.7,199.3 L679.0,199.8 L679.2,200.4 L679.4,200.9 L679.6,201.4 L679.8,202.0 L680.0,202.5 L680.3,203.0 L680.5,203.5 L680.7,204.0 L680.9,204.5 L681.1,205.0 L681.3,205.5 L681.6,205.9 L681.8,206.4 L682.0,206.9 L682.2,207.4 L682.4,207.8 L682.6,208.3 L682.9,208.7 L683.1,209.2 L683.3,209.6 L683.5,210.0 L683.7,210.5 L683.9,210.9 L684.2,211.3 L684.4,211.7 L684.6,212.1 L684.8,212.5 L685.0,212.9 L685.2,213.3 L685.5,213.7 L685.7,214.1 L685.9,214.5 L686.1,214.9 L686.3,215.2 L686.5,215.6 L686.7,216.0 L687.0,216.3 L687.2,216.7 L687.4,217.1 L687.6,217.4 L687.8,217.8 L688.0,218.1 L688.3,218.4 L688.5,218.8 L688.7,219.1 L688.9,219.5 L690.2,221.4 L691.5,223.2 L692.8,224.9 L694.1,226.5 L695.4,228.0 L696.7,229.4 L698.0,230.8 L699.3,232.1 L700.6,233.3 L701.9,234.5 L703.2,235.6 L704.5,236.7 L705.8,237.7 L707.1,238.6 L708.4,239.6 L709.7,240.5 L711.0,241.3 L712.3,242.1 L713.6,242.9 L714.9,243.7 L716.2,244.4 L717.5,245.1 L718.7,245.8 L720.0,246.5 L721.3,247.1 L722.6,247.7 L723.9,248.3 L725.2,248.9 L726.5,249.4 L727.8,250.0 L729.1,250.5 L730.4,251.0 L731.7,251.5 L733.0,252.0 L734.3,252.5 L735.6,252.9 L736.9,253.4 L738.2,253.8 L739.5,254.2 L740.8,254.7 L742.1,255.1 L743.4,255.5 L744.7,255.9 L746.0,256.2 L747.3,256.6 L748.6,257.0 L749.9,257.3 L751.2,257.7 L752.5,258.0 L753.8,258.4 L755.1,258.7 L756.4,259.0 L757.7,259.4" stroke="#EDB120"/>
</g>
<text class="tk" transform="translate(455.40,278.4) scale(0.95,1)" text-anchor="middle">50</text>
<text class="tk" transform="translate(498.64,278.4) scale(0.95,1)" text-anchor="middle">100</text>
<text class="tk" transform="translate(541.89,278.4) scale(0.95,1)" text-anchor="middle">150</text>
<text class="tk" transform="translate(585.13,278.4) scale(0.95,1)" text-anchor="middle">200</text>
<text class="tk" transform="translate(628.37,278.4) scale(0.95,1)" text-anchor="middle">250</text>
<text class="tk" transform="translate(671.61,278.4) scale(0.95,1)" text-anchor="middle">300</text>
<text class="tk" transform="translate(714.86,278.4) scale(0.95,1)" text-anchor="middle">350</text>
<text class="tk" transform="translate(758.10,278.4) scale(0.95,1)" text-anchor="middle">400</text>
<text class="tk" transform="translate(451.5,267.80) scale(0.95,1)" text-anchor="end">0</text>
<text class="tk" transform="translate(451.5,244.19) scale(0.95,1)" text-anchor="end">0.2</text>
<text class="tk" transform="translate(451.5,220.58) scale(0.95,1)" text-anchor="end">0.4</text>
<text class="tk" transform="translate(451.5,196.97) scale(0.95,1)" text-anchor="end">0.6</text>
<text class="tk" transform="translate(451.5,173.36) scale(0.95,1)" text-anchor="end">0.8</text>
<text class="tk" transform="translate(451.5,149.75) scale(0.95,1)" text-anchor="end">1</text>
<text class="tk" transform="translate(451.5,126.14) scale(0.95,1)" text-anchor="end">1.2</text>
<text class="tk" transform="translate(451.5,102.53) scale(0.95,1)" text-anchor="end">1.4</text>
<text class="tk" transform="translate(451.5,78.92) scale(0.95,1)" text-anchor="end">1.6</text>
<text class="tk" transform="translate(451.5,55.31) scale(0.95,1)" text-anchor="end">1.8</text>
<text class="tk" transform="translate(451.5,31.70) scale(0.95,1)" text-anchor="end">2</text>
<text x="449.1" y="14.7" font-size="9.3px" font-weight="bold" fill="#000">Sensitivity range for 5 % damage level (B.et.al) L = 10 mm &amp; W = 10 mm</text>
<text class="tk" transform="translate(455.8,25.9) scale(0.95,1)">×10<tspan dy="-3.6" font-size="7.2px">-3</tspan></text>
<text class="al" x="606.2" y="295.2" font-size="13.9px" text-anchor="middle">Frequency [kHz]</text>
<text class="al" transform="translate(430.7,146) rotate(-90)" text-anchor="middle">Sensitivity (%)</text>
<rect x="603.8" y="35.3" width="147.1" height="52.6" fill="#fff" stroke="#444" stroke-width="0.9"/>
<line x1="606.5" y1="44.60" x2="634.2" y2="44.60" stroke="#0072BD" stroke-width="1.5"/>
<text class="lg" x="636.4" y="49.50">t = 0.3 mm &amp; r = 67</text>
<line x1="606.5" y1="61.85" x2="634.2" y2="61.85" stroke="#D95319" stroke-width="1.5"/>
<text class="lg" x="636.4" y="66.75">t = 0.5 mm &amp; r = 40</text>
<line x1="606.5" y1="79.10" x2="634.2" y2="79.10" stroke="#EDB120" stroke-width="1.5"/>
<text class="lg" x="636.4" y="84.00">t = 1.5 mm &amp; r = 13</text>
<text class="cap" x="586" y="319.9" style="font-size:21px">(<tspan font-weight="bold">b</tspan>)</text>
</g>
</svg></body></html>
